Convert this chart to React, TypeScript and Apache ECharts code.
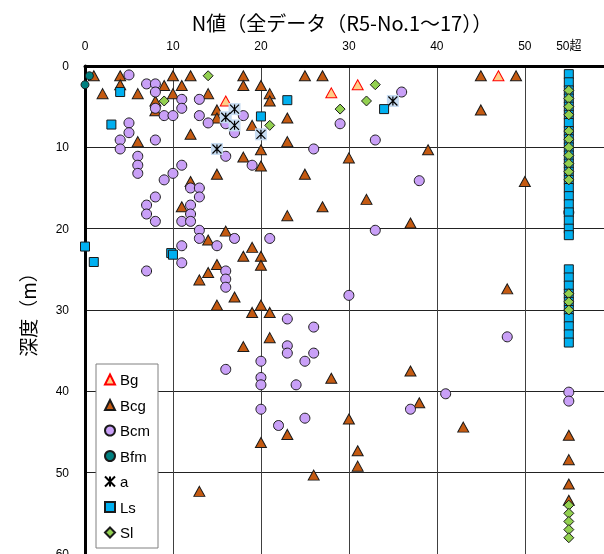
import React, { useEffect, useRef } from 'react';
import * as echarts from 'echarts';

const titleText = 'N値（全データ（R5-No.1～17））';
const yAxisTitle = '深度（m）';
const xTickValues = [0, 10, 20, 30, 40, 50];
const overValue = 55;
const overLabel = '50超';

// [N value, depth (m)]
const bgPoints = [[16, 4.3], [28, 3.3], [31, 2.3], [47, 1.2]];

const bcgPoints = [
  [1, 1.2], [4, 1.2], [4, 2.3], [2, 3.4], [6, 3.4], [10, 1.2], [12, 1.2], [9, 2.4], [11, 2.4],
  [10, 3.4], [14, 3.4], [8, 4.3], [8, 5.5], [15, 5.4], [15, 6.4], [18, 1.2], [18, 2.4], [20, 2.4],
  [21, 3.4], [21, 4.3], [19, 7.3], [12, 8.4], [6, 9.3], [23, 6.4], [23, 9.3], [20, 10.3], [18, 11.2],
  [20, 12.3], [15, 13.3], [12, 14.2],
  [25, 1.2], [27, 1.2], [45, 1.2], [49, 1.2], [45, 5.4], [30, 11.3], [39, 10.3], [25, 13.3], [50, 14.2],
  [11, 17.3], [23, 18.4], [16, 20.3], [14, 21.4], [19, 22.3], [18, 23.4], [20, 23.4], [20, 24.5],
  [15, 24.4], [14, 25.4], [13, 26.3], [17, 28.4], [15, 29.4], [19, 30.3], [20, 29.4], [21, 30.3],
  [27, 17.3], [32, 16.4], [37, 19.3], [48, 27.4],
  [21, 33.4], [18, 34.5], [23, 45.3], [20, 46.3], [13, 52.3], [28, 38.4], [37, 37.5], [38, 41.4],
  [30, 43.4], [43, 44.4], [31, 47.3], [31, 49.2], [26, 50.3]
];
const bcgOverDepths = [45.4, 48.4, 51.4, 53.4];

const bcmPoints = [
  [5, 1.1], [7, 2.2], [8, 2.2], [8, 3.2], [11, 4.1], [13, 4.1], [11, 5.2], [8, 5.2], [9, 6.1], [10, 6.1],
  [13, 6.1], [14, 7.0], [16, 7.1], [18, 6.1], [17, 8.2], [5, 7.0], [5, 8.2], [4, 9.1], [4, 10.2], [8, 9.1],
  [16, 11.1], [6, 11.1], [6, 12.2], [6, 13.2], [11, 12.2], [10, 13.2], [9, 14.0], [19, 12.2], [12, 15.0], [13, 15.0],
  [13, 16.1], [8, 16.1], [7, 17.1], [12, 17.1], [7, 18.2], [12, 18.2], [8, 19.1], [11, 19.1], [12, 19.1],
  [13, 20.2], [13, 21.2], [15, 22.1], [17, 21.2], [21, 21.2], [11, 22.1], [11, 24.2], [7, 25.2], [16, 25.2],
  [16, 26.2], [16, 27.2], [23, 31.1],
  [36, 3.2], [29, 7.1], [33, 9.1], [26, 10.2], [38, 14.1], [33, 20.2], [30, 28.2], [26, 32.1],
  [23, 34.4], [23, 35.3], [20, 36.3], [16, 37.3], [20, 38.3], [20, 39.2], [24, 39.2], [20, 42.2], [22, 44.2],
  [26, 35.3], [25, 36.3], [48, 33.3], [41, 40.3], [37, 42.2], [25, 43.3]
];
const bcmOverDepths = [18, 40.1, 41.2];

const bfmPoints = [[0.5, 1.2], [0, 2.3]];

const aPoints = [[17, 5.3], [16, 6.3], [17, 7.3], [20, 8.4], [15, 10.2], [35, 4.3]];

const lsPoints = [[4, 3.2], [3, 7.2], [20, 6.2], [23, 4.2], [34, 5.3], [0, 22.2], [1, 24.1], [9.8, 23.0], [10, 23.2]];
const lsOverDepths = [1, 2, 3, 4, 5, 6, 7, 8, 9, 10, 11, 12, 13, 14, 15, 16, 17, 18, 19, 20, 20.8,
  25, 26, 27, 28, 29, 30, 31, 32, 33, 34];

const slPoints = [[14, 1.2], [9, 4.3], [21, 7.3], [33, 2.3], [32, 4.3], [29, 5.3]];
const slOverDepths = [3, 4, 5, 6, 8, 9, 10, 11, 12, 13, 14, 28, 29, 30, 54, 55, 56, 57, 58];

const legendNames = ['Bg', 'Bcg', 'Bcm', 'Bfm', 'a', 'Ls', 'Sl'];

const over = (depths: number[]) => depths.map((d) => [overValue, d]);

const asteriskPath = 'path://M0,0L10,10M10,0L0,10M5,0L5,10';
const borderCol = '#1a1a1a';

export default function App() {
  const ref = useRef<HTMLDivElement>(null);
  useEffect(() => {
    if (!ref.current) return;
    const chart = echarts.init(ref.current, undefined, { renderer: 'svg' });
    const mk = (name: string, data: any[], symbol: string, size: any, color: string, border: string, bw = 1) => ({
      type: 'scatter',
      name,
      data,
      symbol,
      symbolSize: size,
      itemStyle: { color, borderColor: border, borderWidth: bw, opacity: 1 },
      emphasis: { disabled: true }
    });
    const numFont = "'Liberation Sans', 'Noto Sans CJK JP', sans-serif";
    chart.setOption({
      animation: false,
      graphic: [
        {
          type: 'text',
          x: 342,
          y: 22,
          style: {
            text: titleText,
            fontSize: 20,
            fontFamily: "'Noto Sans CJK JP', sans-serif",
            fill: '#000',
            textAlign: 'center',
            textVerticalAlign: 'middle'
          }
        }
      ],
      grid: { left: 85, right: 0, top: 66, height: 489, containLabel: false },
      legend: {
        orient: 'vertical',
        left: 96,
        top: 364,
        data: legendNames,
        itemWidth: 10,
        itemHeight: 10,
        itemGap: 10.5,
        padding: [8, 8, 8, 8],
        backgroundColor: '#fff',
        borderColor: '#808080',
        borderWidth: 1,
        selectedMode: false,
        textStyle: { fontSize: 15, fontFamily: numFont, color: '#000' }
      },
      xAxis: [
        {
          type: 'value',
          position: 'top',
          min: 0,
          max: 59,
          interval: 10,
          axisLine: { show: true, onZero: false, lineStyle: { color: '#000', width: 3 } },
          axisTick: { show: false },
          axisLabel: {
            margin: 14,
            fontSize: 12,
            color: '#000',
            fontFamily: numFont,
            showMaxLabel: false,
            formatter: (v: number) => (xTickValues.includes(v) ? String(v) : '')
          },
          splitLine: { show: true, lineStyle: { color: '#404040', width: 1 } }
        },
        {
          type: 'value',
          position: 'top',
          min: 0,
          max: 59,
          interval: overValue,
          axisLine: { show: false },
          axisTick: { show: false },
          splitLine: { show: false },
          axisLabel: {
            margin: 14,
            fontSize: 12,
            color: '#000',
            fontFamily: numFont,
            showMinLabel: false,
            showMaxLabel: false,
            formatter: (v: number) => (v === overValue ? overLabel : '')
          }
        }
      ],
      yAxis: {
        type: 'value',
        inverse: true,
        min: 0,
        max: 60,
        interval: 10,
        name: yAxisTitle,
        nameLocation: 'middle',
        nameGap: 48,
        nameRotate: 90,
        nameTextStyle: { fontSize: 19, fontFamily: "'Noto Sans CJK JP', sans-serif", color: '#000' },
        axisLine: { show: true, onZero: false, lineStyle: { color: '#000', width: 3 } },
        axisTick: { show: false },
        axisLabel: { margin: 16, fontSize: 12, color: '#000', fontFamily: numFont },
        splitLine: { show: true, lineStyle: { color: '#222', width: 1 } }
      },
      series: [
        mk('Bg', bgPoints, 'triangle', [11, 10], '#ffcf88', '#ff0000'),
        mk('Bcg', [...bcgPoints, ...over(bcgOverDepths)], 'triangle', [11, 10], '#c55a11', borderCol),
        mk('Bcm', [...bcmPoints, ...over(bcmOverDepths)], 'circle', 10, '#c9a0f7', borderCol),
        mk('Bfm', bfmPoints, 'circle', 8, '#008080', borderCol),
        mk('a_bg', aPoints, 'rect', 12, '#c6dbf1', '#c6dbf1', 0),
        mk('a', aPoints, asteriskPath, 9, '#000', '#000', 1.2),
        mk('Ls', [...lsPoints, ...over(lsOverDepths)], 'rect', 9, '#00b0f0', borderCol),
        mk('Sl', [...slPoints, ...over(slOverDepths)], 'diamond', [10, 10], '#92d050', borderCol)
      ]
    });
    return () => chart.dispose();
  }, []);
  return <div ref={ref} style={{ position: 'fixed', left: 0, top: 0, width: 604, height: 560 }} />;
}
